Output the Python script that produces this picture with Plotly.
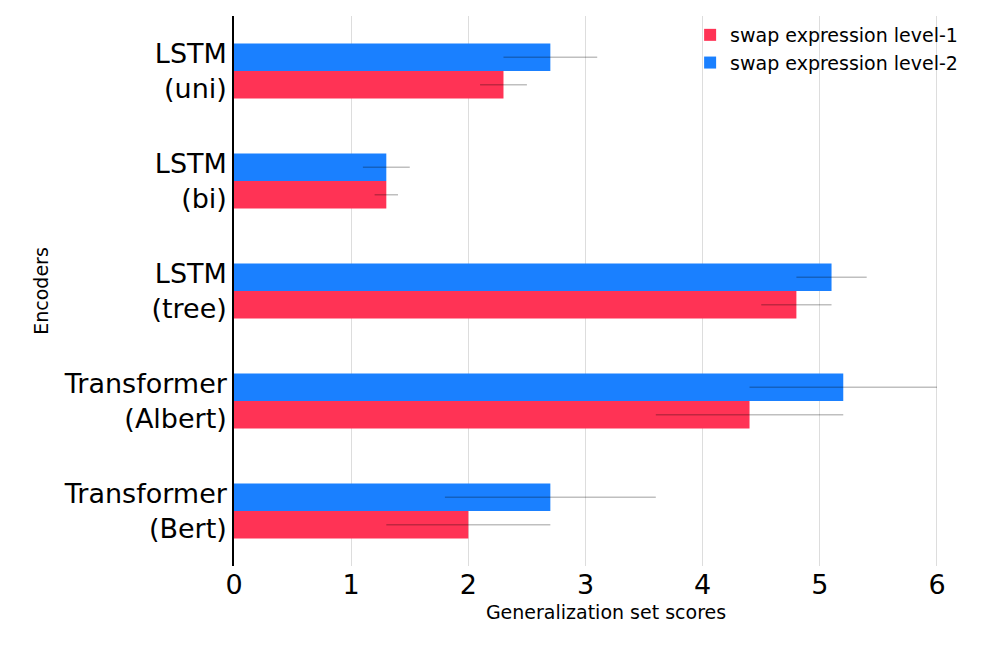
import plotly.graph_objects as go

encoders = ["LSTM<br>(uni)", "LSTM<br>(bi)", "LSTM<br>(tree)", "Transformer<br>(Albert)", "Transformer<br>(Bert)"]
level1 = [2.3, 1.3, 4.8, 4.4, 2.0]
level1_err = [0.2, 0.1, 0.3, 0.8, 0.7]
level2 = [2.7, 1.3, 5.1, 5.2, 2.7]
level2_err = [0.4, 0.2, 0.3, 0.8, 0.9]

fig = go.Figure()
fig.add_trace(go.Bar(y=encoders, x=level1, orientation="h", name="swap expression level-1",
                     marker=dict(color="#ff3355", line=dict(width=0)),
                     error_x=dict(type="data", array=level1_err, color="rgba(0,0,0,0.25)",
                                  thickness=1.5, width=0)))
fig.add_trace(go.Bar(y=encoders, x=level2, orientation="h", name="swap expression level-2",
                     marker=dict(color="#1a80ff", line=dict(width=0)),
                     error_x=dict(type="data", array=level2_err, color="rgba(0,0,0,0.25)",
                                  thickness=1.5, width=0)))

fig.update_layout(
    width=984, height=648, barmode="group", bargap=0.5, bargroupgap=0,
    plot_bgcolor="white", paper_bgcolor="white",
    margin=dict(l=226, r=14, t=8, b=90),
    font=dict(family="DejaVu Sans", color="black"),
    legend=dict(x=0.98, y=1.0, xanchor="right", yanchor="top", traceorder="normal",
                font=dict(size=19), bgcolor="rgba(0,0,0,0)"),
    xaxis=dict(range=[0, 6.35], dtick=1, showgrid=True, gridcolor="#dddddd",
               tickfont=dict(size=27), zeroline=False, ticks="",
               title=dict(text="Generalization set scores", font=dict(size=19), standoff=6)),
    yaxis=dict(categoryorder="array", categoryarray=encoders[::-1],
               showline=True, linecolor="black", linewidth=1.5, ticks="",
               tickfont=dict(size=27),
               title=dict(text="Encoders", font=dict(size=19), standoff=10)),
)

fig.write_html("out.html")
